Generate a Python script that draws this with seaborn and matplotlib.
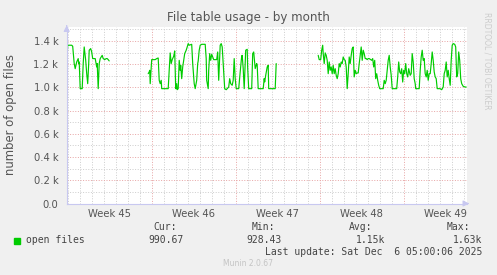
import numpy as np
import pandas as pd
import matplotlib
matplotlib.use("Agg")
import matplotlib.pyplot as plt
import seaborn as sns
from matplotlib.ticker import FixedLocator, FuncFormatter

# ---- data: hours since left edge of graph (Nov 2 22:00), open files ----
seg1_hours = [1, 2, 10, 12, 15, 17, 20, 23, 24, 25, 27, 31, 33, 35, 38, 40, 42, 44, 45, 48,
              50, 52, 55, 57, 60, 61, 63, 65, 67, 69, 71, 73, 76, 79, 81, 83, 85]
seg1_values = [1276, 1363, 1363, 1354, 1205, 1161, 1219, 1248, 1205, 1219, 989, 989, 1205, 1348,
               1233, 1118, 1032, 1205, 1320, 1334, 1305, 1248, 1248, 1248, 1176, 1205, 989, 1205,
               1248, 1262, 1276, 1248, 1239, 1248, 1248, 1239, 1228]

seg2_hours = [163, 165, 166, 167, 170, 173, 177, 180, 183, 185, 187, 189, 190, 193, 197, 200, 203,
              205, 207, 209, 211, 214, 216, 218, 220, 221, 223, 225, 227, 228, 230, 232, 234, 236,
              239, 241, 243, 245, 250, 252, 255, 257, 260, 262, 263, 265, 267, 270, 275, 277, 279,
              280, 283, 284, 286, 288, 290, 292, 294, 297, 300, 302, 304, 307, 309, 311, 313, 316,
              319, 321, 324, 326, 328, 331, 333, 335, 337, 339, 344, 347, 350, 351, 353, 355, 358,
              361, 362, 364, 370, 372, 374, 377, 380, 381, 383, 393, 395, 396, 398, 401, 403, 404,
              417, 419]
seg2_values = [1118, 1133, 1147, 1032, 1239, 1239, 1239, 1248, 1253, 1061, 1032, 1061, 989, 989,
               989, 989, 989, 1147, 1297, 1205, 1239, 1268, 1314, 989, 1032, 980, 989, 1233, 1147,
               1190, 1075, 1176, 1233, 1291, 1320, 1348, 1377, 1363, 1371, 1205, 1032, 989, 1061,
               1205, 1228, 1320, 1363, 1371, 1371, 1371, 1248, 1061, 989, 1147, 1291, 1233, 1285,
               1262, 1239, 1239, 1239, 1305, 1061, 1363, 1377, 1348, 1205, 989, 980, 989, 1003,
               1075, 1032, 1018, 1061, 1248, 1075, 989, 989, 1133, 1271, 1276, 1162, 989, 1320,
               1328, 1162, 989, 989, 1291, 1305, 1162, 1205, 1190, 989, 989, 1076, 1047, 1104,
               1176, 1190, 989, 989, 1205]

seg3_hours = [503, 505, 508, 510, 512, 513, 515, 517, 519, 521, 523, 525, 527, 529, 531, 533, 535,
              537, 539, 541, 543, 545, 547, 549, 551, 553, 555, 557, 559, 561, 563, 565, 567, 569,
              571, 573, 575, 577, 579, 581, 583, 585, 587, 589, 591, 593, 595, 597, 599, 601, 603,
              605, 608, 610, 612, 614, 616, 618, 620, 622, 624, 626, 628, 630, 633, 635, 637, 639,
              641, 643, 645, 647, 649, 651, 655, 658, 660, 662, 664, 666, 668, 670, 672, 674, 676,
              678, 680, 682, 684, 687, 689, 691, 693, 695, 697, 698, 700, 703, 705, 707, 709, 711,
              713, 715, 717, 719, 721, 723, 725, 727, 729, 731, 733, 735, 737, 739, 741, 743, 747,
              750, 753, 755, 757, 759, 761, 763, 765, 767, 769, 771, 773, 776, 778, 780, 782, 784,
              786, 788, 790, 793, 797, 799]
seg3_values = [1276, 1239, 1239, 1320, 1363, 1291, 1205, 1297, 1276, 1233, 1118, 1219, 1147, 1176,
               1118, 1190, 1118, 1161, 1104, 1075, 1118, 1205, 1176, 1219, 1205, 1262, 1239, 1233,
               1176, 989, 1118, 1262, 1205, 1276, 1334, 1348, 1090, 1147, 1118, 1124, 1124, 1205,
               1276, 1348, 1233, 1320, 1291, 1248, 1248, 1239, 1248, 1248, 1239, 1233, 1248, 1176,
               1233, 1075, 1118, 1061, 1018, 989, 989, 989, 989, 1061, 1032, 1061, 1147, 1233,
               1276, 1176, 1104, 989, 989, 989, 989, 1090, 1219, 1133, 1118, 1161, 1046, 1147,
               1118, 1205, 1118, 1090, 1161, 1104, 1118, 1291, 1219, 1075, 1032, 989, 989, 989,
               989, 1147, 1262, 1320, 1233, 1248, 1118, 1090, 1147, 1061, 1118, 1118, 1205, 1305,
               1233, 1133, 1090, 1075, 989, 989, 989, 980, 1003, 1118, 1147, 1219, 1090, 1147,
               1075, 1018, 1233, 1363, 1377, 1371, 1348, 1090, 1118, 1305, 1233, 1075, 1032, 1009,
               1003, 1003]

week_starts = [170, 338, 506, 674]          # Monday 00:00 of weeks 46..49
week_labels = ["Week 45", "Week 46", "Week 47", "Week 48", "Week 49"]
x_range = (0, 800)
y_range = (0, 1520)
series_label = "open files"
stats_names = ["Cur:", "Min:", "Avg:", "Max:"]
stats_values = ["990.67", "928.43", "1.15k", "1.63k"]
title = "File table usage - by month"
ylabel = "number of open files"
last_update = "Last update: Sat Dec  6 05:00:06 2025"
footer = "Munin 2.0.67"
side_text = "RRDTOOL / TOBI OETIKER"

# ---- build frame ----
frames = []
for i, (h, v) in enumerate([(seg1_hours, seg1_values), (seg2_hours, seg2_values),
                            (seg3_hours, seg3_values)]):
    frames.append(pd.DataFrame({"hours": h, "files": v, "seg": i}))
df = pd.concat(frames, ignore_index=True)

sns.set_style("white")
plt.rcParams["font.family"] = ["DejaVu Sans"]

W, H = 497, 275
fig = plt.figure(figsize=(W / 100, H / 100), dpi=100, facecolor="#f0f0f0")
ax = fig.add_axes([66.7 / W, 1 - 203.5 / H, 400 / W, (203.5 - 27) / H])
ax.set_facecolor("white")

green = "#00cc00"
sns.lineplot(data=df, x="hours", y="files", units="seg", estimator=None,
             color=green, linewidth=0.85, ax=ax, legend=False)

ax.set_xlim(*x_range)
ax.set_ylim(*y_range)

# grid
day_lines = np.arange(week_starts[0] % 24, x_range[1], 24)
ax.xaxis.set_major_locator(FixedLocator(week_starts))
ax.xaxis.set_minor_locator(FixedLocator([d for d in day_lines if d not in week_starts]))
ax.yaxis.set_major_locator(FixedLocator(np.arange(0, 1401, 200)))
ax.yaxis.set_minor_locator(FixedLocator(np.arange(100, 1501, 200)))
dot = (0, (1, 1.6))
ax.grid(which="major", color="#e8a8a8", linestyle=dot, linewidth=0.72)
ax.grid(which="minor", color="#cfcfcf", linestyle=dot, linewidth=0.72)
ax.set_axisbelow(True)

ax.xaxis.set_major_formatter(FuncFormatter(lambda v, p: ""))
ax.yaxis.set_major_formatter(FuncFormatter(
    lambda v, p: "0.0" if v == 0 else f"{v / 1000:.1f} k"))
ax.tick_params(axis="y", which="major", length=3, width=0.7, color="#bbbbbb",
               labelsize=7.2, labelcolor="#555555", pad=3)
ax.tick_params(axis="y", which="minor", length=3, width=0.7, color="#cccccc")
ax.tick_params(axis="x", which="major", length=3, width=0.8, color="#e08080",
               direction="out")
ax.tick_params(axis="x", which="minor", length=2, width=0.7, color="#bbbbbb")

for s in ["top", "right"]:
    ax.spines[s].set_visible(False)
for s in ["left", "bottom"]:
    ax.spines[s].set_color("#c8c8f0")
    ax.spines[s].set_linewidth(0.8)

# axis arrows
ax.annotate("", xy=(1.013, 0), xytext=(0.995, 0), xycoords="axes fraction",
            arrowprops=dict(arrowstyle="-|>,head_length=0.35,head_width=0.18",
                            color="#c8c8f0", lw=0.8))
ax.annotate("", xy=(0, 1.025), xytext=(0, 0.99), xycoords="axes fraction",
            arrowprops=dict(arrowstyle="-|>,head_length=0.35,head_width=0.18",
                            color="#c8c8f0", lw=0.8))

# week labels centered in each week
week_centers = [week_starts[0] - 84] + [w + 84 for w in week_starts]
for c, lab in zip(week_centers, week_labels):
    ax.text(c, -0.03, lab, transform=ax.get_xaxis_transform(), ha="center", va="top",
            fontsize=7.2, color="#555555")

ax.set_xlabel("")
ax.set_ylabel(ylabel, fontsize=8.4, color="#555555")
ax.yaxis.set_label_coords(-(66.7 - 11) / 400, (203.5 - 115) / (203.5 - 27))
ax.yaxis.label.set_va("center")

fig.text(0.5, 1 - 18 / H, title, ha="center", va="center", fontsize=8.6, color="#555555")
fig.text(487 / W, 1 - 12 / H, side_text, rotation=270, ha="center", va="top",
         fontsize=5.5, color="#cccccc")

# legend block (monospace)
mono = "DejaVu Sans Mono"
fig.patches.append(plt.Rectangle((14 / W, 1 - 243.5 / H), 6 / W, 6 / H,
                                 transform=fig.transFigure, color=green))
fig.text(26 / W, 1 - 240 / H, series_label, family=mono, fontsize=7.0, color="#444444",
         va="center", ha="left")
name_right = [177, 275, 372, 470]
val_right = [183.3, 281.7, 385, 482.3]
for nm, vl, xr1, xr2 in zip(stats_names, stats_values, name_right, val_right):
    fig.text(xr1 / W, 1 - 227.5 / H, nm, family=mono, fontsize=7.0, color="#444444",
             va="center", ha="right")
    fig.text(xr2 / W, 1 - 240 / H, vl, family=mono, fontsize=7.0, color="#444444",
             va="center", ha="right")
fig.text(482.3 / W, 1 - 252 / H, last_update, family=mono, fontsize=7.0, color="#444444",
         va="center", ha="right")
fig.text(247.7 / W, 1 - 263.5 / H, footer, fontsize=5.5, color="#c4c4c4",
         va="center", ha="center")

fig.savefig("out.png", dpi=100, facecolor=fig.get_facecolor())
